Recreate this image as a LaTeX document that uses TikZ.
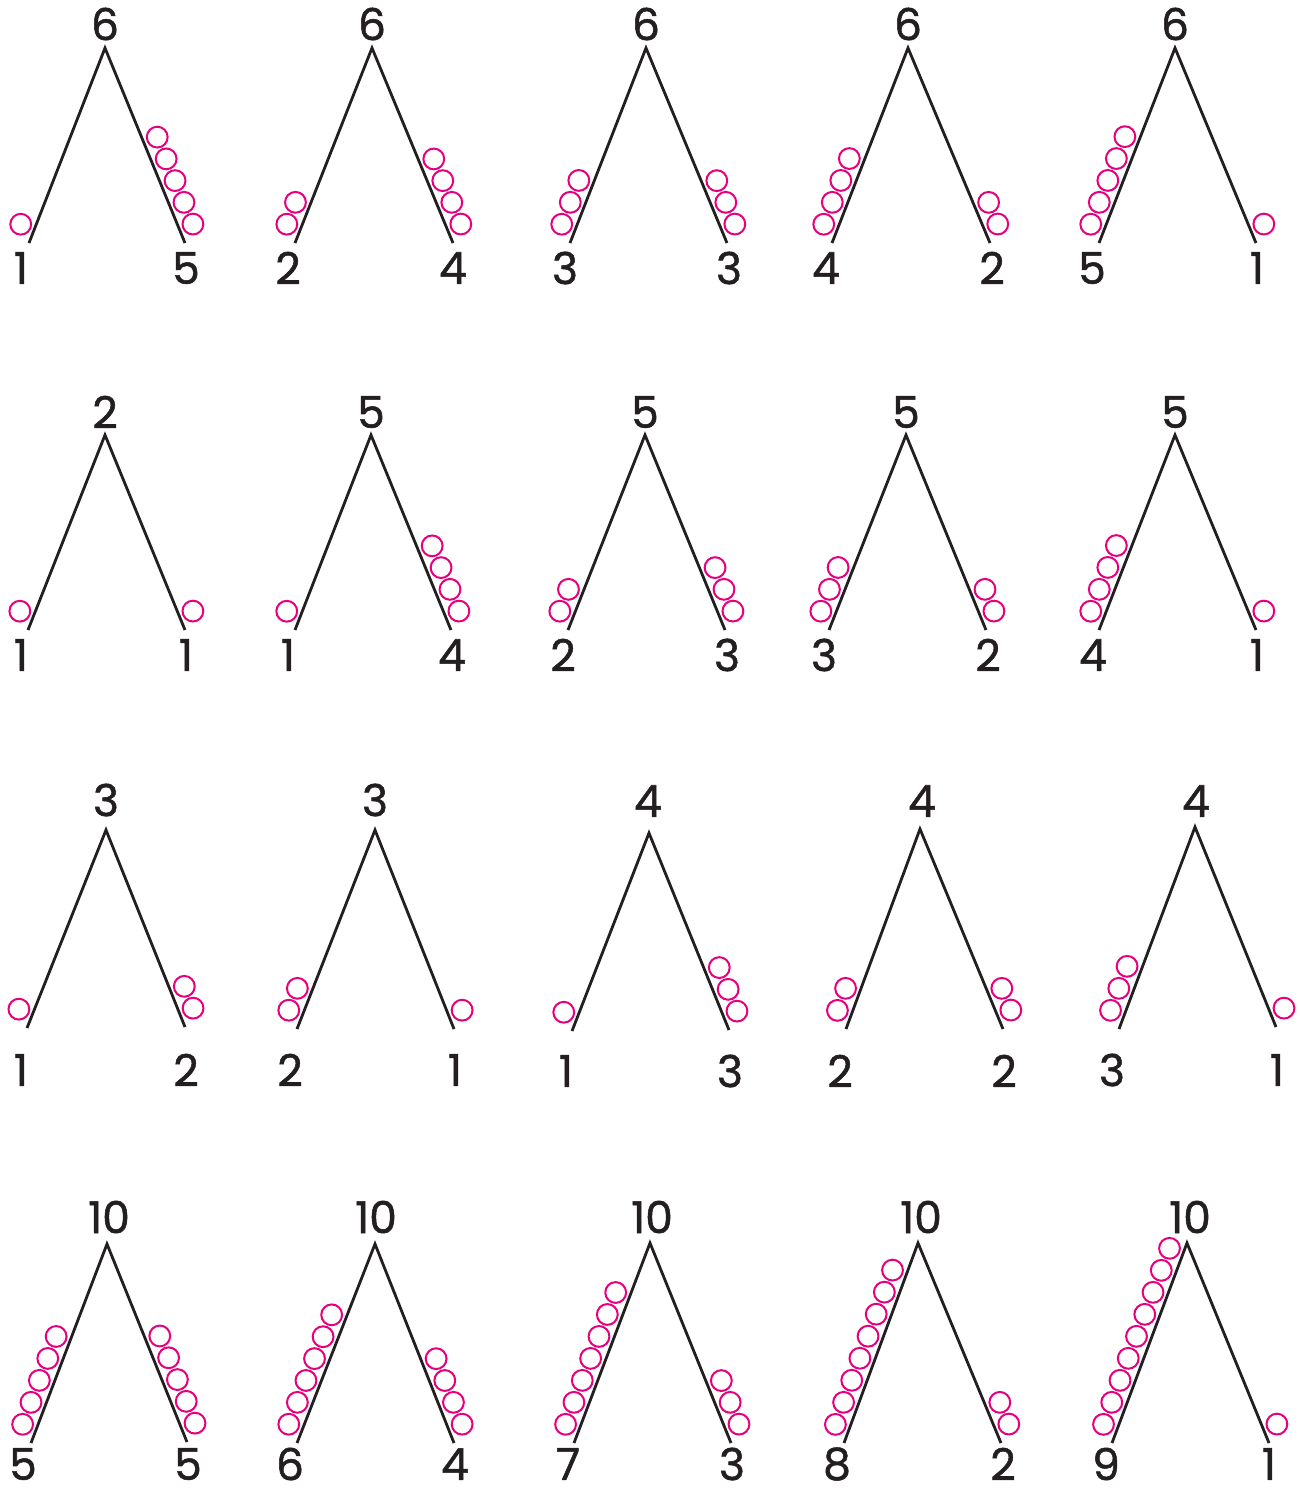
\documentclass[tikz,border=0pt]{standalone}
\usepackage{fontspec}
\setmainfont{Poppins}
\newfontfamily\numfont{Poppins}[FakeBold=1.2]
\usetikzlibrary{calc}
\definecolor{beadcol}{RGB}{230,0,126}
\definecolor{inkcol}{RGB}{35,31,32}
\begin{document}
\begin{tikzpicture}[x=1pt,y=-1pt,
  leg/.style={line width=2.8pt, draw=inkcol},
  bead/.style={draw=beadcol, line width=2pt},
  num/.style={font=\numfont\fontsize{44}{48}\selectfont, inner sep=0pt, text=inkcol}]
\useasboundingbox (0,0) rectangle (1300,1489);
\foreach \pid/\Ax/\Ay/\Lx/\Ly/\Rx/\Ry/\Tx/\Lt/\Rt/\Ty/\By/\Tn/\Ln/\Rn in {
  a/105/48/29/243/185/243/105/21/186/24/268/6/1/5,
  b/372/48/295/243/453/243/372/288/453/24/268/6/2/4,
  c/646/48/570/243/727/243/646/565/729/24/268/6/3/3,
  d/908/48/832/243/990/243/908/826/992/24/268/6/4/2,
  e/1175/48/1099/243/1256/243/1175/1092/1257/24/268/6/5/1,
  f/105/435/28/630/185/630/105/21/186/412/655/2/1/1,
  g/371/435/295/630/451/630/371/288/452/412/655/5/1/4,
  h/645/435/568/630/725/630/645/563/727/412/655/5/2/3,
  i/906/435/829/630/986/630/906/824/988/412/655/5/3/2,
  j/1175/435/1099/630/1256/630/1175/1093/1257/412/655/5/4/1,
  k/106/830/27/1028/185/1027/106/21/186/800/1070/3/1/2,
  l/375/830/297/1029/454/1029/375/290/455/800/1070/3/2/1,
  m/649/833/572/1031/729/1030/648/566/730/801/1071/4/1/3,
  n/920/829/846/1029/1003/1029/922/840/1004/801/1071/4/2/2,
  o/1195/827/1119/1029/1276/1027/1196/1112/1277/801/1070/4/3/1,
  p/107/1244/31/1443/187/1442/109/23/188/1217/1464/10/5/5,
  q/375/1244/297/1443/454/1443/376/290/455/1217/1464/10/6/4,
  r/650/1243/574/1443/731/1443/652/568/732/1217/1464/10/7/3,
  s/918/1243/844/1443/1001/1443/921/837/1003/1217/1464/10/8/2,
  t/1187/1243/1112/1443/1269/1443/1190/1106/1269/1217/1464/10/9/1}{
  \coordinate (A\pid) at (\Ax,\Ay);
  \coordinate (L\pid) at (\Lx,\Ly);
  \coordinate (R\pid) at (\Rx,\Ry);
  \node[num] (t\pid) at (\Tx,\Ty) {\Tn};
  \node[num] (l\pid) at (\Lt,\By) {\Ln};
  \node[num] (r\pid) at (\Rt,\By) {\Rn};
  \draw[leg] (L\pid) -- (A\pid) -- (R\pid);
  \foreach \kk in {1,...,\Ln}{
    \pgfmathsetmacro\dd{14.5+(\kk-1)*23.5}
    \coordinate (pp) at ($(L\pid)!\dd pt!(A\pid)$);
    \draw[bead] ($(pp)!14.5pt!90:(A\pid)$) circle[radius=10.4pt];
  }
  \foreach \kk in {1,...,\Rn}{
    \pgfmathsetmacro\dd{14.5+(\kk-1)*23.5}
    \coordinate (pp) at ($(R\pid)!\dd pt!(A\pid)$);
    \draw[bead] ($(pp)!14.5pt!-90:(A\pid)$) circle[radius=10.4pt];
  }
}
\end{tikzpicture}
\end{document}
